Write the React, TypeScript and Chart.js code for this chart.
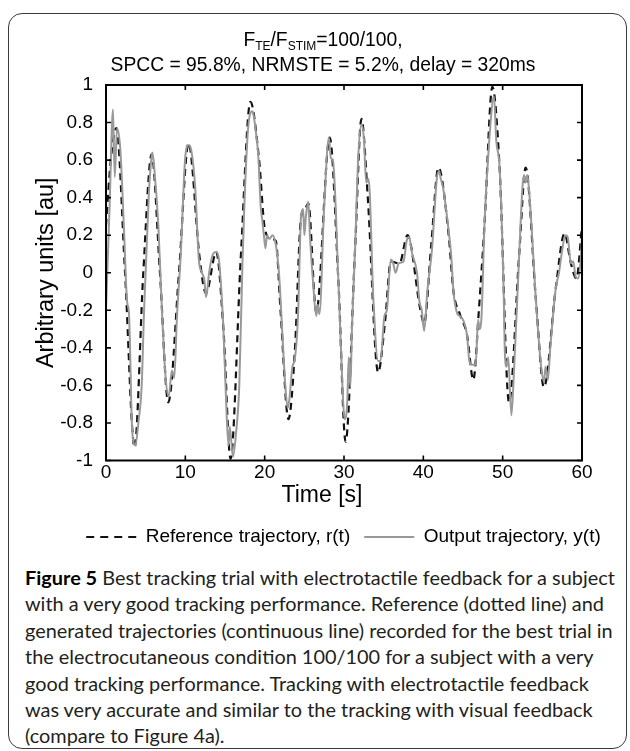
import React, { useEffect, useRef } from "react";
import { Chart, registerables } from "chart.js";

Chart.register(...registerables);

// ---- data ----
const refTime = [0, 0.6, 1.3, 2.4, 3.6, 4.7, 5.75, 6.8, 7.85, 9.2, 10.4, 11.8, 12.6, 13.9, 14.8, 15.7, 17.0, 18.2, 19.3, 20.0, 20.8, 21.4, 22.0, 23.0, 23.8, 24.6, 25.0, 25.5, 26.5, 28.2, 29.3, 30.2, 31.4, 32.2, 33.0, 34.3, 35.2, 35.9, 37.0, 38.0, 39.6, 40.1, 41.0, 41.9, 43.2, 43.8, 44.6, 45.5, 46.3, 47.0, 47.7, 48.7, 49.6, 50.8, 52.1, 52.9, 54.2, 55.2, 56.7, 57.8, 58.6, 59.3, 60];
const refValue = [0.25, 0.6, 0.77, 0.0, -0.93, 0.0, 0.63, 0.0, -0.69, 0.0, 0.69, 0.08, -0.11, 0.11, -0.3, -0.99, 0.09, 0.91, 0.6, 0.24, 0.18, 0.17, -0.2, -0.78, -0.42, 0.3, 0.33, 0.37, -0.21, 0.72, -0.05, -0.9, 0.13, 0.82, 0.4, -0.53, -0.25, 0.06, 0.05, 0.2, -0.19, -0.27, 0.15, 0.56, 0.2, -0.1, -0.22, -0.33, -0.57, -0.2, 0.25, 0.99, 0.57, -0.69, 0.11, 0.56, -0.15, -0.61, -0.08, 0.21, 0.05, -0.03, 0.25];

const outTime = [0, 0.45, 0.88, 1.1, 1.39, 1.8, 2.25, 2.65, 2.9, 3.3, 3.7, 4.1, 4.5, 4.8, 5.4, 5.7, 5.85, 6.1, 6.6, 7.05, 7.5, 7.9, 8.3, 8.6, 8.95, 9.4, 10.0, 10.4, 10.8, 11.25, 11.7, 12.1, 12.4, 12.6, 12.8, 13.0, 13.5, 13.9, 14.2, 14.8, 15.2, 15.45, 15.6, 16.0, 16.4, 16.8, 17.2, 17.8, 18.2, 18.5, 18.8, 19.2, 19.5, 19.7, 19.9, 20.1, 20.3, 20.6, 21.0, 21.4, 21.8, 22.2, 22.6, 22.9, 23.1, 23.5, 23.8, 24.2, 24.6, 24.85, 25.0, 25.2, 25.5, 25.7, 26.1, 26.5, 26.7, 26.9, 27.5, 28.1, 28.35, 28.6, 29.3, 29.8, 30.06, 30.4, 30.6, 30.8, 31.0, 31.4, 31.8, 32.2, 32.5, 32.8, 33.1, 33.7, 34.3, 34.6, 35.1, 35.4, 35.9, 36.2, 36.5, 36.9, 37.5, 37.9, 38.2, 38.6, 39.2, 39.5, 39.8, 40.1, 40.5, 41.1, 41.7, 42.0, 42.2, 42.5, 43.2, 43.5, 43.8, 44.3, 44.6, 45.1, 45.5, 45.8, 46.1, 46.6, 46.9, 47.1, 47.35, 47.7, 48.3, 48.9, 49.2, 49.6, 50.1, 50.3, 50.5, 50.7, 51.1, 51.4, 52.1, 52.5, 52.7, 52.9, 53.1, 53.4, 54.2, 54.8, 55.2, 55.4, 55.7, 56.0, 56.7, 57.1, 57.5, 57.9, 58.2, 58.6, 58.9, 59.2, 59.5, 59.8, 60];
const outValue = [-0.2, 0.35, 0.87, 0.51, 0.77, 0.66, 0.25, -0.15, -0.22, -0.84, -0.92, -0.79, -0.6, -0.2, 0.42, 0.6, 0.64, 0.55, 0.25, -0.2, -0.55, -0.66, -0.52, -0.56, -0.23, 0.08, 0.62, 0.68, 0.64, 0.45, 0.07, 0.0, -0.04, -0.13, -0.08, 0.0, 0.1, 0.11, 0.08, -0.3, -0.75, -0.92, -0.82, -0.98, -0.85, -0.6, 0.05, 0.7, 0.85, 0.86, 0.78, 0.62, 0.35, 0.28, 0.2, 0.13, 0.2, 0.18, 0.2, 0.15, 0.0, -0.3, -0.6, -0.72, -0.68, -0.5, -0.46, -0.23, 0.31, 0.34, 0.2, 0.3, 0.38, 0.2, -0.05, -0.23, -0.17, -0.22, 0.35, 0.72, 0.61, 0.6, -0.05, -0.6, -0.78, -0.7, -0.45, -0.61, -0.3, 0.13, 0.62, 0.79, 0.72, 0.48, 0.5, -0.14, -0.47, -0.47, -0.23, -0.2, 0.07, 0.05, 0.0, 0.05, 0.06, 0.17, 0.19, 0.1, 0.0, -0.15, -0.2, -0.31, -0.1, 0.13, 0.5, 0.54, 0.5, 0.45, 0.22, 0.1, -0.1, -0.22, -0.23, -0.26, -0.33, -0.47, -0.49, -0.49, -0.25, -0.3, -0.22, 0.25, 0.7, 0.94, 0.7, 0.57, -0.05, -0.45, -0.5, -0.45, -0.76, -0.55, 0.11, 0.46, 0.52, 0.48, 0.52, 0.4, -0.15, -0.48, -0.58, -0.5, -0.57, -0.4, -0.08, 0.0, 0.12, 0.2, 0.19, 0.05, 0.06, -0.02, -0.03, 0.05, 0.19];

const xTicks = [0, 10, 20, 30, 40, 50, 60];
const yTicks = [-1, -0.8, -0.6, -0.4, -0.2, 0, 0.2, 0.4, 0.6, 0.8, 1];
const yTickLabels = ["-1", "-0.8", "-0.6", "-0.4", "-0.2", "0", "0.2", "0.4", "0.6", "0.8", "1"];

const seriesNames = ["Reference trajectory, r(t)", "Output trajectory, y(t)"];
const titleLine2 = "SPCC = 95.8%, NRMSTE = 5.2%, delay = 320ms";
const xTitle = "Time [s]";
const yTitle = "Arbitrary units [au]";

const captionBold = "Figure 5";
const captionLines = [
  " Best tracking trial with electrotactile feedback for a subject",
  "with a very good tracking performance. Reference (dotted line) and",
  "generated trajectories (continuous line) recorded for the best trial in",
  "the electrocutaneous condition 100/100 for a subject with a very",
  "good tracking performance. Tracking with electrotactile feedback",
  "was very accurate and similar to the tracking with visual feedback",
  "(compare to Figure 4a).",
];

const FONT = "'Liberation Sans', Arial, Helvetica, sans-serif";

const matlabPlugin = {
  id: "matlabFrame",
  afterDatasetsDraw(chart: any) {
    const { ctx, chartArea: a, scales } = chart;
    ctx.save();
    ctx.strokeStyle = "#000";
    ctx.lineWidth = 2;
    ctx.strokeRect(a.left, a.top, a.right - a.left, a.bottom - a.top);
    ctx.lineWidth = 1.6;
    const tl = 5;
    ctx.beginPath();
    xTicks.forEach((v) => {
      const x = scales.x.getPixelForValue(v);
      ctx.moveTo(x, a.bottom);
      ctx.lineTo(x, a.bottom - tl);
      ctx.moveTo(x, a.top);
      ctx.lineTo(x, a.top + tl);
    });
    yTicks.forEach((v) => {
      const y = scales.y.getPixelForValue(v);
      ctx.moveTo(a.left, y);
      ctx.lineTo(a.left + tl, y);
      ctx.moveTo(a.right, y);
      ctx.lineTo(a.right - tl, y);
    });
    ctx.stroke();
    ctx.restore();
  },
  afterDraw(chart: any) {
    const { ctx, chartArea: a } = chart;
    ctx.save();
    ctx.fillStyle = "#000";
    ctx.textBaseline = "middle";
    const big = `19.3px ${FONT}`;
    const small = `12px ${FONT}`;
    const parts: [string, string, number][] = [
      ["F", big, 0],
      ["TE", small, 6],
      ["/F", big, 0],
      ["STIM", small, 6],
      ["=100/100,", big, 0],
    ];
    let total = 0;
    parts.forEach(([t, f]) => {
      ctx.font = f;
      total += ctx.measureText(t).width;
    });
    const cx = 323;
    let x = cx - total / 2;
    ctx.textAlign = "left";
    parts.forEach(([t, f, dy]) => {
      ctx.font = f;
      ctx.fillText(t, x, 41 + dy);
      x += ctx.measureText(t).width;
    });
    ctx.font = big;
    ctx.textAlign = "center";
    ctx.fillText(titleLine2, cx, 66);
    ctx.font = `23px ${FONT}`;
    ctx.fillText(xTitle, 322, 496);
    ctx.save();
    ctx.translate(47, (a.top + a.bottom) / 2);
    ctx.rotate(-Math.PI / 2);
    ctx.font = `23.5px ${FONT}`;
    ctx.fillText(yTitle, 0, 0);
    ctx.restore();
    ctx.restore();
  },
};

export default function App() {
  const canvasRef = useRef<HTMLCanvasElement | null>(null);

  useEffect(() => {
    const canvas = canvasRef.current;
    if (!canvas) return;
    const chart = new Chart(canvas, {
      type: "line",
      data: {
        datasets: [
          {
            label: seriesNames[0],
            data: refTime.map((t, i) => ({ x: t, y: refValue[i] })),
            borderColor: "#111111",
            borderWidth: 2.2,
            borderDash: [7, 5],
            pointRadius: 0,
            cubicInterpolationMode: "monotone",
            fill: false,
            order: 2,
            yAxisID: "y",
          },
          {
            label: seriesNames[1],
            data: outTime.map((t, i) => ({ x: t, y: outValue[i] })),
            borderColor: "#999999",
            borderWidth: 2,
            pointRadius: 0,
            cubicInterpolationMode: "monotone",
            fill: false,
            order: 1,
            yAxisID: "y",
          },
        ],
      },
      options: {
        responsive: false,
        animation: false,
        layout: { padding: { left: 57, right: 0, top: 85, bottom: 3.5 } },
        plugins: {
          title: { display: false },
          tooltip: { enabled: false },
          legend: {
            position: "bottom",
            labels: {
              usePointStyle: true,
              pointStyle: "line",
              pointStyleWidth: 50,
              padding: 14,
              color: "#000",
              font: { family: FONT, size: 19 },
              sort: (a: any, b: any) => a.datasetIndex - b.datasetIndex,
              generateLabels: (c: any) => {
                const items = Chart.defaults.plugins.legend.labels.generateLabels(c);
                items.forEach((it: any) => {
                  const ds = c.data.datasets[it.datasetIndex];
                  it.lineDash = ds.borderDash ? [8, 6] : [];
                  it.strokeStyle = ds.borderColor;
                  it.lineWidth = ds.borderWidth;
                });
                return items;
              },
            },
          },
        },
        scales: {
          x: {
            type: "linear",
            min: 0,
            max: 60,
            grid: { display: false },
            border: { display: false },
            ticks: {
              color: "#000",
              font: { family: FONT, size: 19 },
              padding: -7,
              maxRotation: 0,
              callback: (v: any) => String(v),
            },
            afterBuildTicks: (s: any) => {
              s.ticks = xTicks.map((v) => ({ value: v }));
            },
            afterFit: (s: any) => {
              s.height = 53;
            },
          },
          y: {
            type: "linear",
            position: "left",
            min: -1,
            max: 1,
            grid: { display: false },
            border: { display: false },
            ticks: {
              color: "#000",
              font: { family: FONT, size: 19 },
              padding: 5,
              callback: (v: any) => {
                const i = yTicks.findIndex((t) => Math.abs(t - v) < 1e-6);
                return i >= 0 ? yTickLabels[i] : "";
              },
            },
            afterBuildTicks: (s: any) => {
              s.ticks = yTicks.map((v) => ({ value: v }));
            },
            afterFit: (s: any) => {
              s.width = 49;
            },
          },
          yRight: {
            type: "linear",
            position: "right",
            min: -1,
            max: 1,
            grid: { display: false },
            border: { display: false },
            ticks: { display: false },
            afterFit: (s: any) => {
              s.width = 48;
            },
          },
        },
      },
      plugins: [matlabPlugin],
    } as any);
    return () => chart.destroy();
  }, []);

  return (
    <div style={{ position: "absolute", left: 0, top: 0, width: 630, height: 751, background: "#fff", overflow: "hidden" }}>
      <div
        style={{
          position: "absolute",
          left: 8,
          top: 13,
          width: 619,
          height: 736,
          boxSizing: "border-box",
          border: "1.5px solid #3a3a3a",
          borderRadius: 14,
        }}
      />
      <canvas
        ref={canvasRef}
        width={630}
        height={560}
        style={{ position: "absolute", left: 0, top: 0, width: 630, height: 560 }}
      />
      <div
        style={{
          position: "absolute",
          left: 25,
          top: 564,
          fontFamily: "Lato, 'Open Sans', sans-serif",
          fontSize: 19.9,
          lineHeight: "26.4px",
          color: "#231f20",
          whiteSpace: "nowrap",
        }}
      >
        {captionLines.map((line, i) => (
          <div key={i}>
            {i === 0 ? <b style={{ color: "#000" }}>{captionBold}</b> : null}
            {line}
          </div>
        ))}
      </div>
    </div>
  );
}
